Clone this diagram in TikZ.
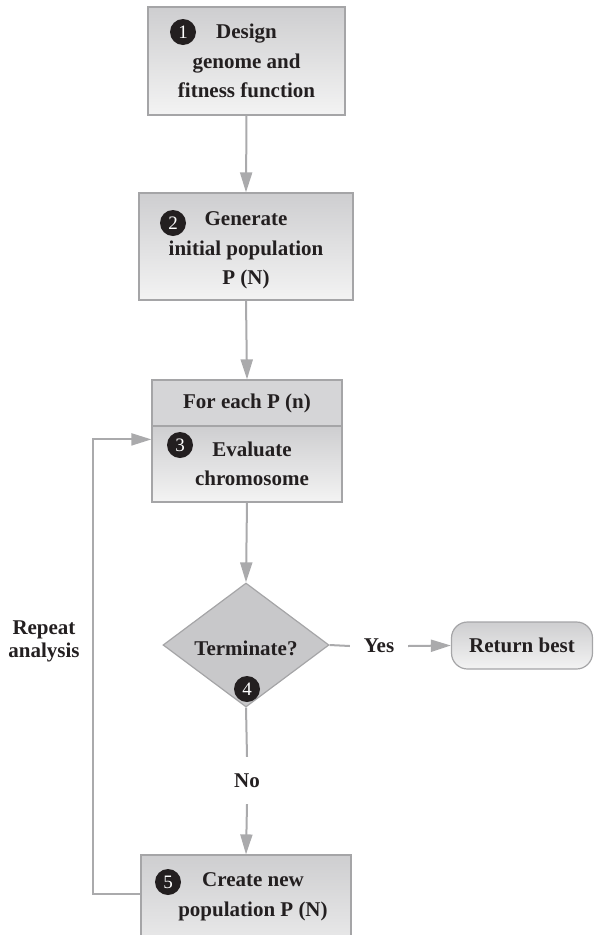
\documentclass[tikz,border=0pt]{standalone}
\usepackage{fontspec}
\setmainfont{Liberation Serif}
\usepackage{xcolor}
\usepackage{tikz}
\definecolor{flowgray}{RGB}{170, 170, 172}
\definecolor{edgegray}{RGB}{165, 165, 167}
\definecolor{shadetop}{RGB}{206, 206, 208}
\definecolor{shadebottom}{RGB}{243, 243, 243}
\definecolor{decisiongray}{RGB}{200, 200, 202}
\definecolor{inkdark}{RGB}{35, 31, 32}
\usetikzlibrary{shapes.geometric, arrows.meta, positioning, calc}

\tikzset{
    boldtext/.style={text=inkdark, align=center, font=\bfseries\fontsize{21}{29.5}\selectfont},
    stepbox/.style={boldtext, draw=edgegray, line width=1.2pt, top color=shadetop,
                    bottom color=shadebottom, inner sep=0pt},
    numdot/.style={circle, fill=inkdark, text=white, minimum size=26pt, inner sep=0pt,
                   font=\fontsize{19}{19}\selectfont},
    flow/.style={draw=flowgray, line width=2pt, -{Triangle[length=20pt, width=12pt]}},
    plainflow/.style={draw=flowgray, line width=2pt}
}

\begin{document}
\begin{tikzpicture}[x=1pt, y=-1pt]
    \clip (0,0) rectangle (594,935);

    % process boxes
    \node[stepbox, minimum width=197pt, minimum height=108pt] (design) at (246.5,61)
        {Design\\genome and\\fitness function};
    \node[numdot] (num1) at (183,32) {1};

    \node[stepbox, minimum width=214pt, minimum height=107pt] (generate) at (246,246.5)
        {\rule{0pt}{22pt}Generate\\initial population\\P (N)};
    \node[numdot] (num2) at (173,223) {2};

    \node[boldtext, draw=edgegray, line width=1.2pt, fill=shadetop!85!white, inner sep=0pt,
          minimum width=190pt, minimum height=46pt] (foreach) at (247,403) {For each P (n)};
    \node[stepbox, minimum width=190pt, minimum height=76pt] (evaluate) at (247,464)
        {\hspace*{10pt}Evaluate\\\hspace*{10pt}chromosome};
    \node[numdot] (num3) at (180,445) {3};

    % decision
    \node[diamond, draw=edgegray, line width=1.2pt, fill=decisiongray, inner sep=0pt,
          minimum width=166pt, minimum height=124pt] (decide) at (246,645) {};
    \node[boldtext, anchor=base] (decidetext) at (246,655) {Terminate?};
    \node[numdot] (num4) at (247,689) {4};

    \node[boldtext, inner sep=0pt, minimum width=58pt, minimum height=30pt] (yes) at (379,646) {Yes};
    \node[stepbox, rounded corners=16pt, minimum width=141pt, minimum height=47pt] (best)
        at (522,645.5) {Return best};

    \node[boldtext, inner sep=0pt, minimum height=47pt] (no) at (247,780.5) {No};

    \node[stepbox, minimum width=210pt, minimum height=120pt] (create) at (246,915) {};
    \node[boldtext] (createtext) at (253,897) {Create new\\population P (N)};
    \node[numdot] (num5) at (168,882) {5};

    \node[boldtext, font=\bfseries\fontsize{21}{23}\selectfont] (repeat) at (44,641)
        {Repeat\\analysis};

    % connectors
    \draw[flow] (design.south) -- (generate.north);
    \draw[flow] (generate.south) -- (foreach.north);
    \draw[flow] (evaluate.south) -- (decide.north);
    \draw[plainflow] (decide.east) -- (yes.west);
    \draw[flow] (yes.east) -- (best.west);
    \draw[plainflow] (decide.south) -- (no.north);
    \draw[flow] (no.south) -- (create.north);

    \coordinate (loopout) at ($(create.north west)+(0,40)$);
    \coordinate (loopin) at ($(evaluate.north west)+(0,14)$);
    \draw[flow] (loopout) -- ++(-47,0) |- (loopin);
\end{tikzpicture}
\end{document}
